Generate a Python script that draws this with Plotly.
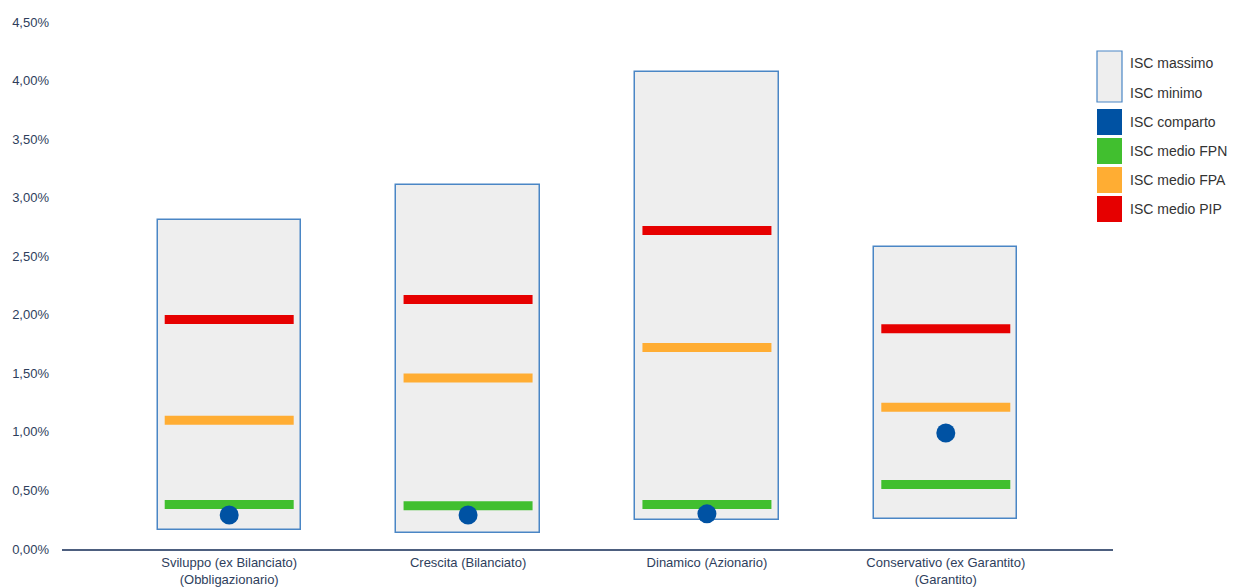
import plotly.graph_objects as go

categories = ["Sviluppo (ex Bilanciato)<br>(Obbligazionario)", "Crescita (Bilanciato)",
              "Dinamico (Azionario)", "Conservativo (ex Garantito)<br>(Garantito)"]
isc_max = [2.81, 3.11, 4.07, 2.58]
isc_min = [0.16, 0.14, 0.25, 0.26]
isc_comparto = [0.29, 0.29, 0.30, 0.99]
isc_fpn = [0.38, 0.37, 0.38, 0.55]
isc_fpa = [1.10, 1.46, 1.72, 1.21]
isc_pip = [1.96, 2.13, 2.72, 1.88]
y_ticks = [0, 0.5, 1.0, 1.5, 2.0, 2.5, 3.0, 3.5, 4.0, 4.5]
y_tick_labels = ["0,00%", "0,50%", "1,00%", "1,50%", "2,00%", "2,50%", "3,00%", "3,50%", "4,00%", "4,50%"]

legend_names = ["ISC massimo", "ISC minimo", "ISC comparto", "ISC medio FPN", "ISC medio FPA", "ISC medio PIP"]
C_BOX, C_EDGE = "#eeeeee", "#4a86c5"
C_DOT, C_FPN, C_FPA, C_PIP = "#0052a3", "#41bf2f", "#ffad33", "#e60000"
TXT = "#2e3e5c"

xs = list(range(len(categories)))
fig = go.Figure()
fig.add_trace(go.Bar(x=xs, y=[a - b for a, b in zip(isc_max, isc_min)], base=isc_min, width=0.6,
                     marker=dict(color=C_BOX, line=dict(color=C_EDGE, width=1.5)),
                     showlegend=False, hoverinfo="skip"))

HALF = 0.27
def seg(vals):
    lx, ly = [], []
    for i, v in enumerate(vals):
        lx += [i - HALF, i + HALF, None]
        ly += [v, v, None]
    return lx, ly

for vals, col in [(isc_fpn, C_FPN), (isc_fpa, C_FPA), (isc_pip, C_PIP)]:
    lx, ly = seg(vals)
    fig.add_trace(go.Scatter(x=lx, y=ly, mode="lines", line=dict(color=col, width=9),
                             showlegend=False, hoverinfo="skip"))

fig.add_trace(go.Scatter(x=xs, y=isc_comparto, mode="markers",
                         marker=dict(color=C_DOT, size=19), showlegend=False))

# plot area in page pixels (target): x 62..1113, y 22..549
PX0, PX1, PY0, PY1 = 62, 1113, 22, 549
def px(x):
    return (x - PX0) / (PX1 - PX0)
def py(y):
    return (PY1 - y) / (PY1 - PY0)

shapes = []
annotations = []
shapes.append(dict(type="rect", xref="paper", yref="paper", x0=px(1097), x1=px(1122), y0=py(102), y1=py(51),
                   fillcolor=C_BOX, line=dict(color=C_EDGE, width=1.2)))
sq = [(109, 135, C_DOT), (138, 164, C_FPN), (167, 193, C_FPA), (196, 222, C_PIP)]
for y0, y1, c in sq:
    shapes.append(dict(type="rect", xref="paper", yref="paper", x0=px(1097), x1=px(1122), y0=py(y1), y1=py(y0),
                       fillcolor=c, line=dict(color=c, width=0)))
text_y = [63, 93, 122, 151, 180, 209]
for name, ty in zip(legend_names, text_y):
    annotations.append(dict(xref="paper", yref="paper", x=px(1128), y=py(ty), text=name, showarrow=False,
                            xanchor="left", yanchor="middle", font=dict(size=14, color="#333333")))

W, H, OFF = 1220, 580, 8
fig.update_layout(
    width=W, height=H, margin=dict(l=PX0 - OFF, r=W - (PX1 - OFF), t=PY0 - OFF, b=H - (PY1 - OFF)),
    plot_bgcolor="white", paper_bgcolor="white",
    font=dict(family="Liberation Sans, Arial, sans-serif", color=TXT, size=14),
    showlegend=False, shapes=shapes, annotations=annotations, bargap=0,
    xaxis=dict(range=[-0.7, 3.7], tickvals=xs, ticktext=categories, showgrid=False, zeroline=False,
               showline=True, linecolor="#4d5f7f", linewidth=2, ticks="", automargin=False,
               tickfont=dict(size=13, color=TXT)),
    yaxis=dict(range=[0, 4.5], tickvals=y_ticks, ticktext=y_tick_labels, showgrid=False, zeroline=False,
               showline=False, ticks="", automargin=False, tickfont=dict(size=13, color=TXT),
               ticklabelstandoff=12),
)
fig.write_html("out.html")
